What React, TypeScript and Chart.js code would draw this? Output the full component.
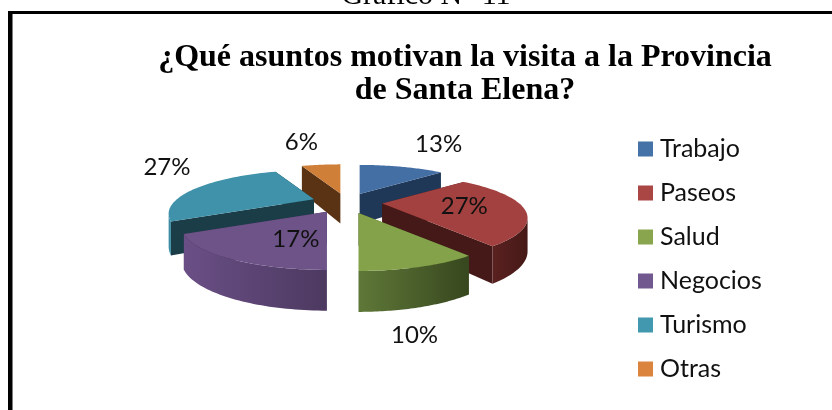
import React, { useEffect, useRef } from "react";
import { Chart, registerables, PieController } from "chart.js";

Chart.register(...registerables);

const categories = ["Trabajo", "Paseos", "Salud", "Negocios", "Turismo", "Otras"];
const shares = [13, 27, 10, 17, 27, 6];
const caption = "Gráfico N° 11";
const titleLines = ["¿Qué asuntos motivan la visita a la Provincia", "de Santa Elena?"];

const legendColors = ["#4572A7", "#AA4643", "#89A54E", "#71588F", "#4198AF", "#DB843D"];
const topColors = ["#446FA5", "#A2413F", "#84A24A", "#6D5388", "#3F92A9", "#CF7F38"];
const rimLeft = ["#1F3857", "#5A2120", "#5F7838", "#6A4F86", "#3C8CA3", "#5A3315"];
const rimRight = ["#1F3857", "#451917", "#37471E", "#4C3960", "#3C8CA3", "#5A3315"];
const wallColors = ["#1F3857", "#451917", "#3F5022", "#3C2D4E", "#1A3D48", "#5A3315"];
const labelNudge = [[79, -50], [82, 3], [56, 122], [-31, 27], [-147, -32], [-39, -51]];

const CX = 346.5, CY = 202.5, RX = 137, RY = 38.7, K = 1 / 3, EXPLODE = 0.26;
const project = (x: number, y: number) => {
  const w = 1 - K * y;
  return [(RX * x) / w, (RY * y) / w];
};
const depthAt = (y: number) => 30 + 0.14 * (y - 193);
const dir = (t: number) => [Math.sin(t), -Math.cos(t)];

function sliceGeom(el: any) {
  const a0 = el.startAngle + Math.PI / 2;
  const a1 = el.endAngle + Math.PI / 2;
  const mid = (a0 + a1) / 2;
  const [ex, ey] = dir(mid);
  const [ax, ay] = project(ex * EXPLODE, ey * EXPLODE);
  const apex = [CX + ax, CY + ay];
  const rim: number[][] = [];
  const n = 48;
  for (let i = 0; i <= n; i++) {
    const [dx, dy] = dir(a0 + ((a1 - a0) * i) / n);
    const [px, py] = project(dx, dy);
    rim.push([apex[0] + px, apex[1] + py]);
  }
  return { apex, rim, mid };
}

class Pie3DController extends PieController {
  static id = "pie3d";
  static defaults = PieController.defaults;
  static overrides = PieController.overrides;
  draw() {
    const ctx = this.chart.ctx;
    const meta = this.getMeta();
    const order = meta.data
      .map((el: any, i: number) => ({ i, g: sliceGeom(el) }))
      .sort((p: any, q: any) => p.g.apex[1] - q.g.apex[1]);
    const poly = (pts: number[][], fill: any) => {
      ctx.beginPath();
      pts.forEach((p, j) => (j ? ctx.lineTo(p[0], p[1]) : ctx.moveTo(p[0], p[1])));
      ctx.closePath();
      ctx.fillStyle = fill;
      ctx.fill();
    };
    const down = (p: number[]) => [p[0], p[1] + depthAt(p[1])];
    for (const { i, g } of order) {
      const { apex, rim } = g;
      const first = rim[0];
      const last = rim[rim.length - 1];
      poly([apex, first, down(first), down(apex)], wallColors[i]);
      poly([apex, last, down(last), down(apex)], wallColors[i]);
      // only the part of the rim that faces the viewer: screen x falls as the angle grows
      const front: number[][] = [];
      for (let j = 0; j < rim.length; j++) {
        const next = rim[j + 1] ?? rim[j];
        const prev = rim[j - 1] ?? rim[j];
        if (next[0] < rim[j][0] || prev[0] > rim[j][0]) front.push(rim[j]);
      }
      if (front.length > 1) {
        const xs = front.map((p) => p[0]);
        const grad = ctx.createLinearGradient(Math.min(...xs), 0, Math.max(...xs), 0);
        grad.addColorStop(0, rimLeft[i]);
        grad.addColorStop(1, rimRight[i]);
        poly([...front, ...front.slice().reverse().map(down)], grad);
      }
      poly([apex, ...rim], topColors[i]);
    }
  }
}
Chart.register(Pie3DController as any);

const framePlugin = {
  id: "frame",
  beforeDraw(chart: any) {
    const ctx = chart.ctx;
    ctx.save();
    ctx.fillStyle = "#000";
    ctx.fillRect(8, 11, 824, 3);
    ctx.fillRect(8, 11, 4.5, 399);
    ctx.font = '30px "Liberation Serif"';
    ctx.textAlign = "center";
    ctx.textBaseline = "alphabetic";
    ctx.fillText(caption, 426, 4);
    ctx.restore();
  },
};

const legendPlacePlugin = {
  id: "legendPlace",
  afterLayout(chart: any) {
    const lg = chart.legend;
    const w = lg.right - lg.left;
    lg.left = 624.5;
    lg.right = 624.5 + w;
    lg.top = 117.5;
    lg.bottom = 117.5 + (lg.height ?? 300);
  },
};

const labelPlugin = {
  id: "sliceLabels",
  afterDatasetsDraw(chart: any) {
    const ctx = chart.ctx;
    const meta = chart.getDatasetMeta(0);
    ctx.save();
    ctx.fillStyle = "#111";
    ctx.font = "24px Lato";
    ctx.textAlign = "center";
    ctx.textBaseline = "middle";
    meta.data.forEach((el: any, i: number) => {
      const { apex } = sliceGeom(el);
      ctx.fillText(`${shares[i]}%`, apex[0] + labelNudge[i][0], apex[1] + labelNudge[i][1]);
    });
    ctx.restore();
  },
};

export default function App() {
  const ref = useRef<HTMLCanvasElement>(null);
  useEffect(() => {
    document.body.style.margin = "0";
    document.body.style.overflow = "hidden";
    const chart = new Chart(ref.current!, {
      type: "pie3d" as any,
      data: {
        labels: categories,
        datasets: [
          {
            data: shares,
            backgroundColor: legendColors,
            borderColor: legendColors,
            borderWidth: 11,
          },
        ],
      },
      options: {
        responsive: false,
        animation: false,
        layout: { padding: { left: 98, right: 0, top: 0, bottom: 0 } },
        plugins: {
          tooltip: { enabled: false },
          title: {
            display: true,
            text: titleLines,
            color: "#000",
            font: { family: '"Liberation Serif"', size: 32, weight: "bold", lineHeight: 1.03 },
            padding: { top: 41, bottom: 0 },
          },
          legend: {
            display: true,
            position: "right",
            align: "start",
            labels: {
              boxWidth: 4,
              boxHeight: 4,
              padding: 19,
              color: "#111",
              font: { family: "Lato", size: 25 },
            },
          },
        },
      },
      plugins: [framePlugin, legendPlacePlugin, labelPlugin],
    } as any);
    return () => chart.destroy();
  }, []);
  return <canvas ref={ref} width={832} height={410} style={{ display: "block" }} />;
}
